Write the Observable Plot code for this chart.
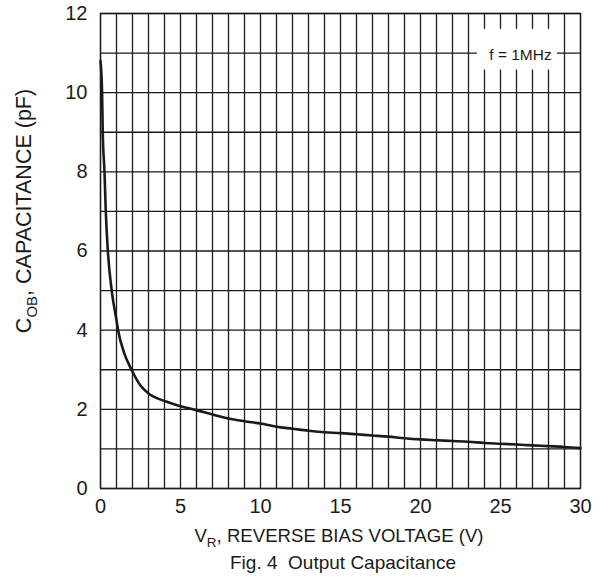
<!DOCTYPE html>
<html>
<head>
<meta charset="utf-8">
<script src="https://cdn.jsdelivr.net/npm/d3@7"></script>
<script src="https://cdn.jsdelivr.net/npm/@observablehq/plot@0.6"></script>
<style>
  html, body { margin: 0; padding: 0; background: #fff; }
</style>
</head>
<body>
<div id="chart"></div>
<script>
// Reverse bias voltage (V)
const voltage = [0, 0.1, 0.14, 0.25, 0.33, 0.46, 0.7, 1.0, 1.1, 1.5, 1.94, 2.5, 3, 4, 5, 6, 7, 8, 9, 10, 11, 12, 13, 14, 15, 16, 17, 18, 19, 20, 21, 22, 23, 24, 25, 26, 27, 28, 29, 30];
// Output capacitance C_OB (pF)
const capacitance = [10.8, 10.0, 9.0, 8.0, 7.0, 6.0, 5.0, 4.25, 4.0, 3.4, 3.0, 2.6, 2.4, 2.21, 2.08, 1.98, 1.87, 1.77, 1.70, 1.64, 1.56, 1.51, 1.46, 1.42, 1.40, 1.37, 1.34, 1.31, 1.27, 1.24, 1.22, 1.20, 1.18, 1.15, 1.13, 1.11, 1.09, 1.07, 1.05, 1.02];

const xTicks = [0, 5, 10, 15, 20, 25, 30];
const yTicks = [0, 2, 4, 6, 8, 10, 12];
const xGrid = d3.range(0, 31, 1);
const yGrid = d3.range(0, 13, 1);

// annotation
const note = [{x: 26.25, y: 10.95, x1: 23.56, x2: 28.56, y1: 10.57, y2: 11.6, label: "f = 1MHz"}];

const data = voltage.map((v, i) => ({v, c: capacitance[i]}));

const FONT = "'Liberation Sans', Arial, sans-serif";
const ink = "#1c1a18";

const plot = Plot.plot({
  width: 609,
  height: 579,
  marginLeft: 100,
  marginRight: 29,
  marginTop: 13,
  marginBottom: 91,
  style: {fontFamily: FONT, fontSize: "20px", color: ink, background: "#fff"},
  x: {domain: [0, 30], ticks: xTicks, tickSize: 0, tickPadding: 10, label: null},
  y: {domain: [0, 12], ticks: yTicks, tickSize: 0, tickPadding: 13, label: null},
  marks: [
    Plot.ruleX(xGrid, {stroke: ink, strokeWidth: 1.3}),
    Plot.ruleY(yGrid, {stroke: ink, strokeWidth: 1.3}),
    Plot.rect(note, {x1: "x1", x2: "x2", y1: "y1", y2: "y2", fill: "#fff"}),
    Plot.text(note, {x: "x", y: "y", text: "label", fontSize: 15.5, fill: ink}),
    Plot.line(data, {x: "v", y: "c", stroke: ink, strokeWidth: 2.6, curve: "monotone-x"}),
    Plot.frame({stroke: ink, strokeWidth: 1.3})
  ]
});

document.getElementById("chart").appendChild(plot);

// axis titles with subscripts
const svg = d3.select(plot);
const xl = svg.append("text")
  .attr("x", 339).attr("y", 542)
  .attr("text-anchor", "middle")
  .attr("font-family", FONT).attr("font-size", 18.6).attr("fill", ink);
xl.append("tspan").text("V");
xl.append("tspan").attr("font-size", 13.5).attr("dy", 5).text("R");
xl.append("tspan").attr("dy", -5).text(", REVERSE BIAS VOLTAGE (V)");

const yl = svg.append("text")
  .attr("transform", "translate(31,211) rotate(-90)")
  .attr("text-anchor", "middle")
  .attr("font-family", FONT).attr("font-size", 21.5).attr("fill", ink);
yl.append("tspan").text("C");
yl.append("tspan").attr("font-size", 15).attr("dy", 6).text("OB");
yl.append("tspan").attr("dy", -6).text(", CAPACITANCE (pF)");

svg.append("text")
  .attr("x", 343).attr("y", 569)
  .attr("text-anchor", "middle")
  .attr("font-family", FONT).attr("font-size", 19).attr("fill", ink)
  .attr("xml:space", "preserve")
  .text("Fig. 4  Output Capacitance");
</script>
</body>
</html>
